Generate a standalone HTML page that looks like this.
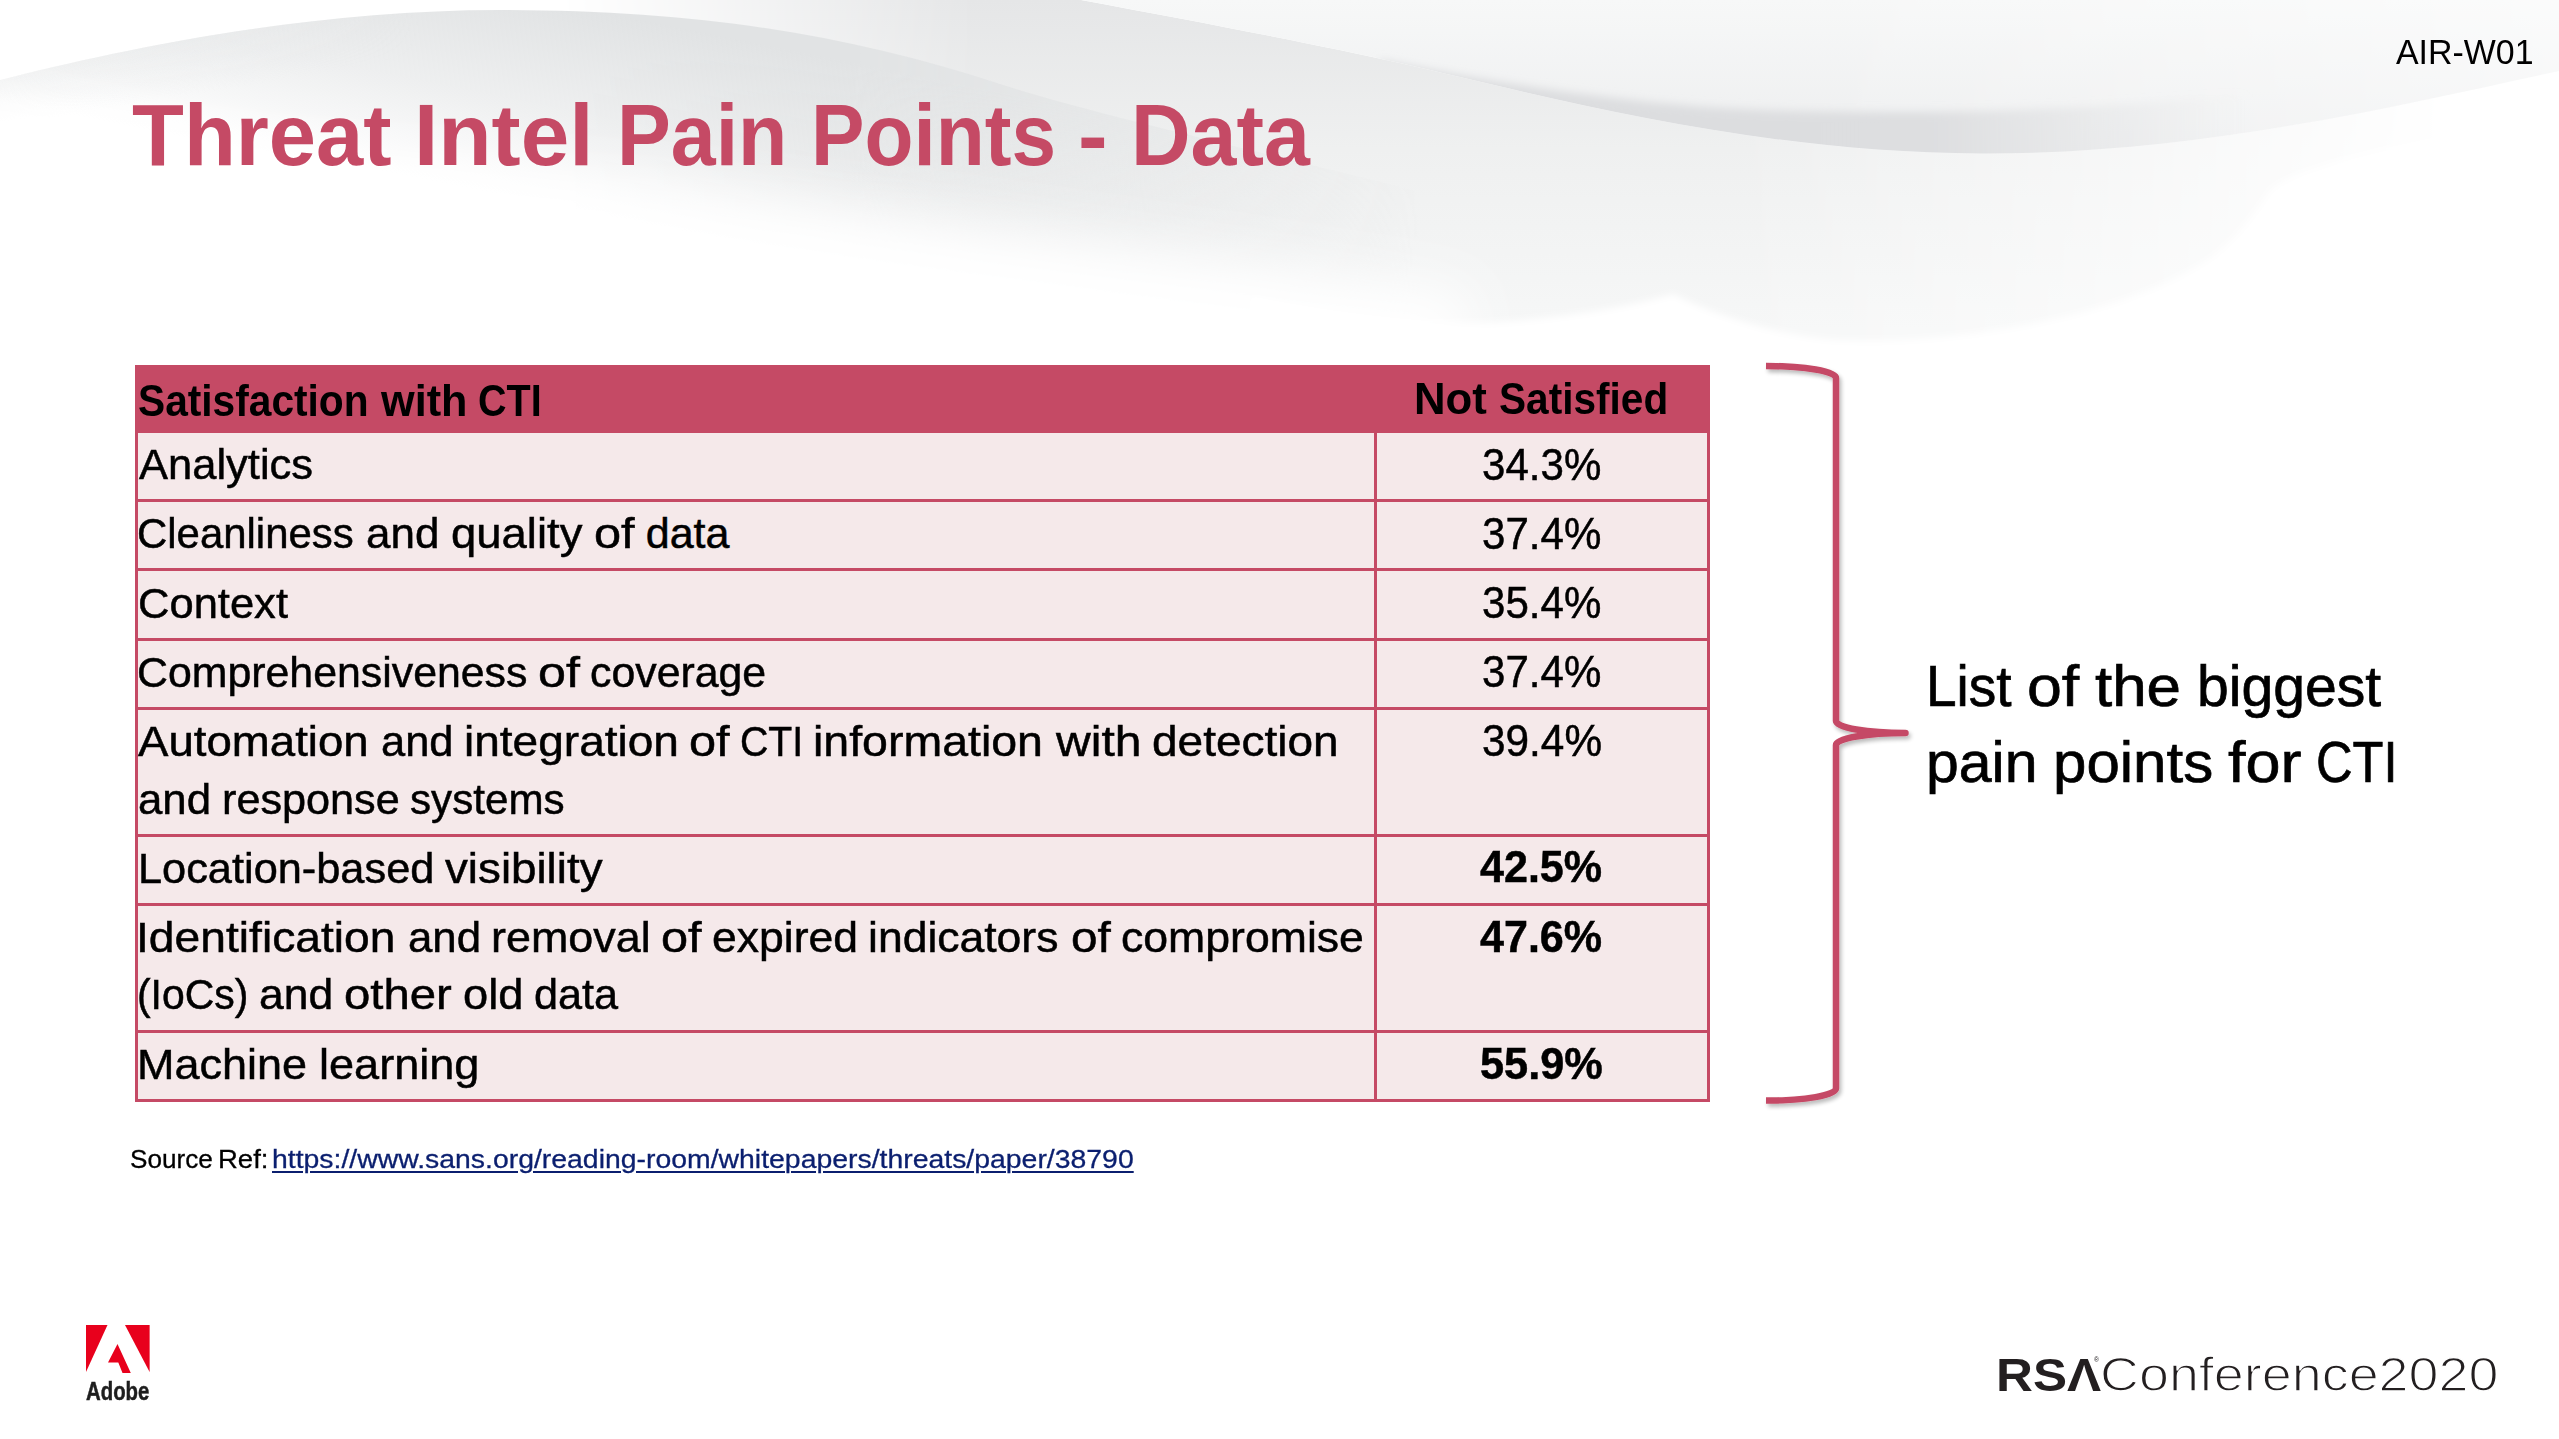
<!DOCTYPE html>
<html lang="en">
<head>
<meta charset="utf-8">
<title>Threat Intel Pain Points - Data</title>
<style>
html,body{margin:0;padding:0;background:#fff;}
body{width:2559px;height:1439px;overflow:hidden;position:relative;font-family:"Liberation Sans",sans-serif;color:#000;}
#bg{position:absolute;left:0;top:0;width:2559px;height:1439px;}
.ln{position:absolute;left:0;width:0;height:0;white-space:nowrap;margin:0;padding:0;}
.ln span{position:absolute;top:0;white-space:nowrap;transform-origin:0 0;display:block;}
.url span{text-decoration:underline;text-decoration-thickness:1.6px;text-underline-offset:3px;}
.adobe{filter:blur(0.7px);-webkit-text-stroke:0.5px #1E1E1E;}
.conf{-webkit-text-stroke:1.4px #fff;}
.row,.val{-webkit-text-stroke:0.5px #000;}
.cap{-webkit-text-stroke:0.7px #000;}
.src{-webkit-text-stroke:0.3px #000;}
.url{-webkit-text-stroke:0.3px #0B1F6F;}
.tbl{position:absolute;left:135px;top:365px;width:1575px;height:737px;background:#C54A65;}
.cell{position:absolute;background:#F5E9EA;}

</style>
</head>
<body>
<svg id="bg" width="2559" height="1439" viewBox="0 0 2559 1439">
<defs>
<linearGradient id="gB" gradientUnits="userSpaceOnUse" x1="0" y1="0" x2="0" y2="330"><stop offset="0" stop-color="#E5E6E7"/><stop offset="0.45" stop-color="#EFF0F0"/><stop offset="1" stop-color="#F6F7F7"/></linearGradient>
<linearGradient id="mBx" gradientUnits="userSpaceOnUse" x1="560" y1="0" x2="2450" y2="0"><stop offset="0" stop-color="#000"/><stop offset="0.22" stop-color="#fff"/><stop offset="0.62" stop-color="#fff"/><stop offset="0.82" stop-color="#888"/><stop offset="1" stop-color="#000"/></linearGradient>
<mask id="mB"><rect x="0" y="0" width="2559" height="440" fill="url(#mBx)"/></mask>
<linearGradient id="gH" gradientUnits="userSpaceOnUse" x1="500" y1="-8" x2="460" y2="192"><stop offset="0" stop-color="#E1E3E4"/><stop offset="0.5" stop-color="#E1E3E4" stop-opacity="0.58"/><stop offset="1" stop-color="#E1E3E4" stop-opacity="0"/></linearGradient>
<linearGradient id="gT" gradientUnits="userSpaceOnUse" x1="0" y1="0" x2="0" y2="150"><stop offset="0" stop-color="#F7F8F8"/><stop offset="1" stop-color="#EDEEEF"/></linearGradient>
<linearGradient id="mTx" gradientUnits="userSpaceOnUse" x1="1800" y1="0" x2="2559" y2="0"><stop offset="0" stop-color="#fff"/><stop offset="1" stop-color="#888"/></linearGradient>
<mask id="mT"><rect x="0" y="0" width="2559" height="400" fill="url(#mTx)"/></mask>
<linearGradient id="gBand" gradientUnits="userSpaceOnUse" x1="1400" y1="0" x2="2250" y2="0"><stop offset="0" stop-color="#DCDDDF"/><stop offset="0.62" stop-color="#DDDEE0"/><stop offset="1" stop-color="#E4E5E6" stop-opacity="0"/></linearGradient>
<clipPath id="cT"><path d="M1081 0 C1200 22 1320 45 1400 63 C1560 100 1760 153 1982 153.5 C2200 154 2400 105 2559 71 L2559 0 Z"/></clipPath>
<filter id="fB" x="-5%" y="-50%" width="110%" height="200%"><feGaussianBlur stdDeviation="5 4"/></filter>
<linearGradient id="mHx" gradientUnits="userSpaceOnUse" x1="850" y1="0" x2="1420" y2="0"><stop offset="0" stop-color="#fff"/><stop offset="1" stop-color="#000"/></linearGradient>
<mask id="mH"><rect x="0" y="0" width="2559" height="400" fill="url(#mHx)"/></mask>
<linearGradient id="gHL" gradientUnits="userSpaceOnUse" x1="0" y1="70" x2="9" y2="125"><stop offset="0" stop-color="#E1E3E4" stop-opacity="0.42"/><stop offset="1" stop-color="#E1E3E4" stop-opacity="0"/></linearGradient>
<linearGradient id="mHLx" gradientUnits="userSpaceOnUse" x1="0" y1="0" x2="420" y2="0"><stop offset="0" stop-color="#fff"/><stop offset="1" stop-color="#000"/></linearGradient>
<mask id="mHL"><rect x="0" y="0" width="2559" height="400" fill="url(#mHLx)"/></mask>
<filter id="fW" x="-5%" y="-30%" width="110%" height="160%"><feGaussianBlur stdDeviation="28"/></filter>
<filter id="fW2" x="-5%" y="-30%" width="110%" height="160%"><feGaussianBlur stdDeviation="3.5"/></filter>
</defs>
<!-- blade B / under glow -->
<g mask="url(#mB)"><path d="M560 0 L1081 0 C1200 22 1320 45 1400 63 C1560 100 1760 153 1982 153.5 C2200 154 2400 105 2559 71 L2559 420 L560 420 Z" fill="url(#gB)"/></g>
<!-- top area above edge 2 -->
<g mask="url(#mT)"><path d="M1081 0 C1200 22 1320 45 1400 63 C1560 100 1760 153 1982 153.5 C2200 154 2400 105 2559 71 L2559 0 Z" fill="url(#gT)"/></g>
<!-- band -->
<g clip-path="url(#cT)"><path filter="url(#fB)" d="M1380 60 C1520 88 1650 106 1760 110 C1880 114 2000 112 2100 106 C2200 100 2300 90 2380 76 L2440 110 C2320 140 2150 170 1982 170 C1760 170 1560 115 1380 70 Z" fill="url(#gBand)"/></g>
<!-- hump -->
<g mask="url(#mH)"><path d="M0 80 C110 52 300 10 500 10 C700 10 850 35 1000 84 C1100 117 1300 160 1700 262 L1700 400 L0 400 Z" fill="url(#gH)"/></g>
<g mask="url(#mHL)"><path d="M0 80 C110 52 300 10 500 10 L500 400 L0 400 Z" fill="url(#gHL)" transform="translate(0,0)"/></g>
<path filter="url(#fW)" d="M-100 95 L300 156 L628 187 L956 224 L1238 262 L1470 294 L1470 640 L-100 640 Z" fill="#fff"/>
<path filter="url(#fW2)" d="M1250 640 L1250 296 C1350 316 1450 326 1500 322 C1580 316 1640 304 1673 294 C1720 318 1790 338 1841 340 C1950 344 2120 320 2212 257 C2240 235 2255 212 2270 190 C2300 165 2400 140 2659 96 L2659 640 Z" fill="#fff"/>
</svg>

<div class="tbl"><div class="cell" style="left:3px;top:67.5px;width:1236px;height:66.5px"></div><div class="cell" style="left:1242px;top:67.5px;width:330px;height:66.5px"></div><div class="cell" style="left:3px;top:137px;width:1236px;height:66px"></div><div class="cell" style="left:1242px;top:137px;width:330px;height:66px"></div><div class="cell" style="left:3px;top:206px;width:1236px;height:67px"></div><div class="cell" style="left:1242px;top:206px;width:330px;height:67px"></div><div class="cell" style="left:3px;top:276px;width:1236px;height:66px"></div><div class="cell" style="left:1242px;top:276px;width:330px;height:66px"></div><div class="cell" style="left:3px;top:345px;width:1236px;height:124px"></div><div class="cell" style="left:1242px;top:345px;width:330px;height:124px"></div><div class="cell" style="left:3px;top:472px;width:1236px;height:66px"></div><div class="cell" style="left:1242px;top:472px;width:330px;height:66px"></div><div class="cell" style="left:3px;top:541px;width:1236px;height:124px"></div><div class="cell" style="left:1242px;top:541px;width:330px;height:124px"></div><div class="cell" style="left:3px;top:668px;width:1236px;height:66px"></div><div class="cell" style="left:1242px;top:668px;width:330px;height:66px"></div></div>
<div class="ln title" style="top:82.24px;font-size:88px;line-height:106px;font-weight:700;color:#C54A65;"><span style="left:131.53px;transform:scaleX(0.9653)">Threat</span> <span style="left:414.04px;transform:scaleX(0.9926)">Intel</span> <span style="left:617.00px;transform:scaleX(0.9169)">Pain</span> <span style="left:810.78px;transform:scaleX(0.9113)">Points</span> <span style="left:1077.71px;transform:scaleX(1.0112)">-</span> <span style="left:1130.62px;transform:scaleX(0.9379)">Data</span></div>
<div class="ln code" style="top:30.77px;font-size:35px;line-height:42px;"><span style="left:2395.60px;transform:scaleX(0.9690)">AIR-W01</span></div>
<div class="ln th" style="top:374.62px;font-size:43.5px;line-height:52px;font-weight:700;"><span style="left:138.33px;transform:scaleX(0.9351)">Satisfaction</span> <span style="left:381.25px;transform:scaleX(0.9941)">with</span> <span style="left:478.41px;transform:scaleX(0.9084)">CTI</span></div>
<div class="ln th" style="top:372.72px;font-size:43.5px;line-height:52px;font-weight:700;"><span style="left:1413.88px;transform:scaleX(1.0051)">Not</span> <span style="left:1499.43px;transform:scaleX(0.9331)">Satisfied</span></div>
<div class="ln row" style="top:437.84px;font-size:43px;line-height:52px;"><span style="left:138.50px;transform:scaleX(1.0117)">Analytics</span></div>
<div class="ln row" style="top:507.09px;font-size:43px;line-height:52px;"><span style="left:137.31px;transform:scaleX(0.9748)">Cleanliness</span> <span style="left:365.71px;transform:scaleX(1.0223)">and</span> <span style="left:450.65px;transform:scaleX(1.0571)">quality</span> <span style="left:594.27px;transform:scaleX(1.1314)">of</span> <span style="left:645.75px;transform:scaleX(1.0000)">data</span></div>
<div class="ln row" style="top:576.84px;font-size:43px;line-height:52px;"><span style="left:137.72px;transform:scaleX(1.0120)">Context</span></div>
<div class="ln row" style="top:646.09px;font-size:43px;line-height:52px;"><span style="left:137.26px;transform:scaleX(0.9961)">Comprehensiveness</span> <span style="left:537.96px;transform:scaleX(1.1679)">of</span> <span style="left:589.51px;transform:scaleX(0.9957)">coverage</span></div>
<div class="ln row" style="top:715.34px;font-size:43px;line-height:52px;"><span style="left:138.48px;transform:scaleX(1.0606)">Automation</span> <span style="left:380.73px;transform:scaleX(1.0112)">and</span> <span style="left:464.29px;transform:scaleX(1.0705)">integration</span> <span style="left:689.27px;transform:scaleX(1.1314)">of</span> <span style="left:740.45px;transform:scaleX(0.9127)">CTI</span> <span style="left:813.01px;transform:scaleX(1.0809)">information</span> <span style="left:1056.25px;transform:scaleX(1.1186)">with</span> <span style="left:1151.88px;transform:scaleX(1.0691)">detection</span></div>
<div class="ln row" style="top:772.84px;font-size:43px;line-height:52px;"><span style="left:137.72px;transform:scaleX(1.0186)">and</span> <span style="left:221.74px;transform:scaleX(1.0044)">response</span> <span style="left:410.02px;transform:scaleX(0.9806)">systems</span></div>
<div class="ln row" style="top:841.89px;font-size:43px;line-height:52px;"><span style="left:137.72px;transform:scaleX(1.0078)">Location-based</span> <span style="left:445.23px;transform:scaleX(1.0633)">visibility</span></div>
<div class="ln row" style="top:911.09px;font-size:43px;line-height:52px;"><span style="left:136.20px;transform:scaleX(1.0746)">Identification</span> <span style="left:407.72px;transform:scaleX(1.0186)">and</span> <span style="left:490.88px;transform:scaleX(1.0441)">removal</span> <span style="left:660.52px;transform:scaleX(1.1314)">of</span> <span style="left:711.94px;transform:scaleX(1.0348)">expired</span> <span style="left:868.15px;transform:scaleX(1.0348)">indicators</span> <span style="left:1070.56px;transform:scaleX(1.1095)">of</span> <span style="left:1120.68px;transform:scaleX(1.0373)">compromise</span></div>
<div class="ln row" style="top:968.29px;font-size:43px;line-height:52px;"><span style="left:137.39px;transform:scaleX(0.9508)">(IoCs)</span> <span style="left:258.69px;transform:scaleX(1.0335)">and</span> <span style="left:343.58px;transform:scaleX(1.0995)">other</span> <span style="left:463.16px;transform:scaleX(1.0521)">old</span> <span style="left:534.49px;transform:scaleX(1.0055)">data</span></div>
<div class="ln row" style="top:1037.79px;font-size:43px;line-height:52px;"><span style="left:136.84px;transform:scaleX(1.0461)">Machine</span> <span style="left:318.86px;transform:scaleX(1.0479)">learning</span></div>
<div class="ln val" style="top:437.57px;font-size:44.5px;line-height:53px;"><span style="left:1481.84px;transform:scaleX(0.9458)">34.3%</span></div>
<div class="ln val" style="top:506.57px;font-size:44.5px;line-height:53px;"><span style="left:1481.84px;transform:scaleX(0.9458)">37.4%</span></div>
<div class="ln val" style="top:576.07px;font-size:44.5px;line-height:53px;"><span style="left:1481.84px;transform:scaleX(0.9458)">35.4%</span></div>
<div class="ln val" style="top:645.07px;font-size:44.5px;line-height:53px;"><span style="left:1481.84px;transform:scaleX(0.9458)">37.4%</span></div>
<div class="ln val" style="top:714.47px;font-size:44.5px;line-height:53px;"><span style="left:1481.53px;transform:scaleX(0.9515)">39.4%</span></div>
<div class="ln val" style="top:840.47px;font-size:44.5px;line-height:53px;font-weight:700;"><span style="left:1480.47px;transform:scaleX(0.9674)">42.5%</span></div>
<div class="ln val" style="top:910.27px;font-size:44.5px;line-height:53px;font-weight:700;"><span style="left:1480.47px;transform:scaleX(0.9674)">47.6%</span></div>
<div class="ln val" style="top:1037.07px;font-size:44.5px;line-height:53px;font-weight:700;"><span style="left:1479.74px;transform:scaleX(0.9733)">55.9%</span></div>
<div class="ln cap" style="top:651.57px;font-size:57.5px;line-height:69px;"><span style="left:1925.66px;transform:scaleX(0.9567)">List</span> <span style="left:2027.07px;transform:scaleX(1.0901)">of</span> <span style="left:2095.39px;transform:scaleX(1.0758)">the</span> <span style="left:2196.98px;transform:scaleX(0.9931)">biggest</span></div>
<div class="ln cap" style="top:727.97px;font-size:57.5px;line-height:69px;"><span style="left:1926.36px;transform:scaleX(1.0252)">pain</span> <span style="left:2053.28px;transform:scaleX(1.0441)">points</span> <span style="left:2228.38px;transform:scaleX(1.0947)">for</span> <span style="left:2316.26px;transform:scaleX(0.8807)">CTI</span></div>
<div class="ln src" style="top:1144.09px;font-size:26px;line-height:31px;"><span style="left:130.34px;transform:scaleX(1.0050)">Source</span> <span style="left:218.12px;transform:scaleX(1.0581)">Ref:</span></div>
<div class="ln url" style="top:1144.09px;font-size:26px;line-height:31px;color:#0B1F6F;"><span style="left:272.49px;transform:scaleX(1.0920)">https://www.sans.org/reading-room/whitepapers/threats/paper/38790</span></div>
<div class="ln adobe" style="top:1375.99px;font-size:26px;line-height:31px;font-weight:700;color:#1E1E1E;"><span style="left:86.11px;transform:scaleX(0.7830)">Adobe</span></div>
<div class="ln rsa" style="top:1347.75px;font-size:46px;line-height:55px;font-weight:700;color:#231F20;"><span style="left:1996.07px;transform:scaleX(1.1101)">RSΛ</span></div>
<div class="ln conf" style="top:1345.86px;font-size:48px;line-height:58px;color:#231F20;"><span style="left:2099.59px;transform:scaleX(1.1227)">Conference2020</span></div>
<div class="ln reg" style="top:1355.57px;font-size:7px;line-height:8px;color:#231F20;"><span style="left:2094.00px;transform:scaleX(0.9600)">®</span></div>
<svg style="position:absolute;left:0;top:0;overflow:visible" width="2559" height="1439" viewBox="0 0 2559 1439">
<defs><filter id="bsh" x="-20%" y="-5%" width="140%" height="110%"><feGaussianBlur in="SourceAlpha" stdDeviation="2.2"/><feOffset dx="1.5" dy="3"/><feComponentTransfer><feFuncA type="linear" slope="0.28"/></feComponentTransfer><feMerge><feMergeNode/><feMergeNode in="SourceGraphic"/></feMerge></filter></defs>
<path filter="url(#bsh)" d="M1766 366 A70.5 12 0 0 1 1836 378 L1836 721 A69.5 12 0 0 0 1905.5 733 A69.5 12 0 0 0 1836 745 L1836 1088.6 A70 12 0 0 1 1766 1100.6" fill="none" stroke="#C54A66" stroke-width="6.5" stroke-linecap="butt" stroke-linejoin="round"/>
</svg>

<svg style="position:absolute;left:0;top:0;filter:blur(0.6px)" width="2559" height="1439" viewBox="0 0 2559 1439">
<polygon points="86,1325 107.5,1325 86,1372" fill="#E8001C"/>
<polygon points="125,1325 149.6,1325 149.6,1372" fill="#E8001C"/>
<polygon points="117.5,1344 130.8,1373 122.5,1373 118.3,1362.5 108,1362.5" fill="#E8001C"/>
</svg>

</body>
</html>
